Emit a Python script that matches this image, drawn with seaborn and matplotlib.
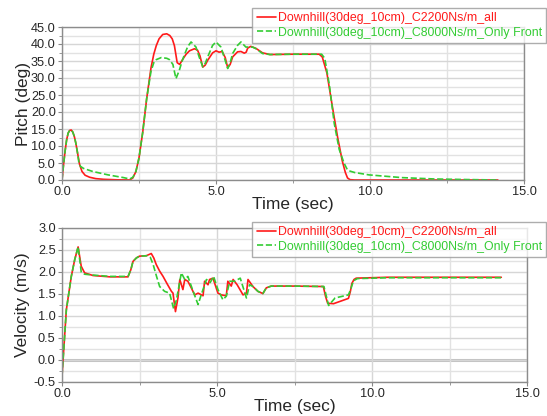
import matplotlib
matplotlib.use("Agg")
import matplotlib.pyplot as plt
from matplotlib.ticker import MultipleLocator, FormatStrFormatter
import seaborn as sns
import pandas as pd

# Pitch (deg), C2200Ns/m all
pitch_red_t = [0.0, 0.05, 0.1, 0.15, 0.2, 0.25, 0.3, 0.35, 0.4, 0.45, 0.5, 0.57, 0.65, 0.75, 0.9,
               1.1, 1.35, 1.8, 2.2, 2.3, 2.4, 2.5, 2.62, 2.75, 2.89, 2.98, 3.06, 3.15, 3.27, 3.4,
               3.5, 3.58, 3.65, 3.74, 3.82, 3.92, 4.03, 4.14, 4.3, 4.4, 4.48, 4.57, 4.65, 4.73,
               4.89, 5.0, 5.1, 5.2, 5.3, 5.38, 5.46, 5.54, 5.7, 5.81, 5.92, 5.98, 6.03, 6.13,
               6.3, 6.51, 6.75, 7.5, 8.35, 8.45, 8.6, 8.78, 8.95, 9.1, 9.2, 9.27, 9.35, 9.5, 10.5,
               12.0, 14.15]
pitch_red = [0.0, 4.5, 8.5, 11.8, 13.8, 14.6, 14.7, 14.1, 12.8, 10.8, 8.2, 4.6, 2.5, 1.4, 0.8, 0.4,
             0.2, 0.05, 0.0, 0.6, 2.5, 6.5, 14.0, 24.0, 33.0, 37.0, 39.5, 41.5, 42.8, 43.0, 42.5,
             41.5, 39.5, 34.5, 34.0, 35.5, 37.0, 38.0, 38.6, 38.2, 36.5, 33.2, 33.8, 35.2, 37.4,
             38.0, 37.6, 37.8, 36.0, 33.0, 34.0, 36.2, 37.7, 37.8, 37.3, 37.6, 38.8, 39.3, 38.7,
             37.4, 36.9, 37.0, 37.0, 36.2, 31.5, 21.5, 12.5, 5.6, 2.2, 0.6, 0.1, 0.0, 0.0, 0.0, 0.0]

# Pitch (deg), C8000Ns/m only front
pitch_grn_t = [0.0, 0.05, 0.1, 0.15, 0.2, 0.25, 0.3, 0.35, 0.4, 0.45, 0.5, 0.55, 0.6, 0.7, 1.0, 1.5,
               2.0, 2.2, 2.3, 2.4, 2.5, 2.62, 2.75, 2.89, 2.98, 3.06, 3.22, 3.4, 3.49, 3.6, 3.7,
               3.81, 3.9, 3.97, 4.08, 4.19, 4.35, 4.46, 4.57, 4.65, 4.73, 4.89, 5.0, 5.16, 5.27,
               5.38, 5.46, 5.54, 5.7, 5.81, 5.97, 6.19, 6.3, 6.51, 6.75, 7.5, 8.43, 8.53, 8.68,
               8.84, 9.0, 9.16, 9.25, 9.32, 9.5, 9.97, 11.04, 12.1, 13.0, 14.15]
pitch_grn = [0.0, 4.5, 8.5, 11.8, 13.8, 14.6, 14.7, 14.1, 12.8, 10.8, 8.2, 5.0, 4.0, 3.4, 2.5, 1.5,
             0.7, 0.3, 0.8, 2.5, 6.5, 14.0, 24.0, 32.0, 34.5, 35.4, 36.0, 35.8, 35.4, 34.0, 29.8,
             32.3, 35.0, 36.7, 39.2, 40.6, 39.1, 36.0, 33.3, 34.3, 36.2, 39.6, 40.6, 39.1, 36.0,
             32.8, 34.5, 37.2, 39.6, 40.6, 39.1, 39.1, 38.6, 37.2, 36.9, 37.0, 37.0, 35.8, 28.0,
             16.6, 9.0, 4.9, 3.3, 2.7, 2.2, 1.5, 0.7, 0.3, 0.15, 0.0]

# Velocity (m/s), C2200Ns/m all
vel_red_t = [0.0, 0.14, 0.3, 0.41, 0.52, 0.62, 0.73, 1.0, 1.54, 2.13, 2.22, 2.29, 2.4, 2.5, 2.72,
             2.88, 2.96, 3.04, 3.15, 3.26, 3.4, 3.53, 3.58, 3.66, 3.74, 3.8, 3.9, 3.96, 4.06, 4.17,
             4.28, 4.39, 4.55, 4.6, 4.71, 4.76, 4.87, 5.03, 5.14, 5.3, 5.35, 5.46, 5.52, 5.65,
             5.84, 5.95, 6.0, 6.16, 6.32, 6.48, 6.59, 6.75, 7.5, 8.43, 8.5, 8.57, 8.76, 9.24,
             9.3, 9.35, 9.42, 9.49, 10.5, 12.0, 14.17]
vel_red = [-0.37, 1.14, 1.9, 2.28, 2.57, 2.13, 1.98, 1.92, 1.89, 1.89, 2.05, 2.24, 2.32, 2.36, 2.37,
           2.42, 2.32, 2.17, 2.02, 1.9, 1.72, 1.56, 1.52, 1.1, 1.41, 1.83, 1.6, 1.83, 1.79, 1.64,
           1.48, 1.52, 1.46, 1.79, 1.71, 1.83, 1.86, 1.52, 1.48, 1.46, 1.79, 1.68, 1.83, 1.71,
           1.48, 1.52, 1.83, 1.67, 1.56, 1.51, 1.64, 1.68, 1.68, 1.67, 1.45, 1.29, 1.28, 1.4,
           1.55, 1.74, 1.83, 1.86, 1.88, 1.88, 1.88]

# Velocity (m/s), C8000Ns/m only front
vel_grn_t = [0.0, 0.14, 0.3, 0.41, 0.52, 0.62, 0.73, 1.0, 1.54, 2.13, 2.22, 2.29, 2.4, 2.5, 2.75,
             2.85, 2.94, 3.05, 3.15, 3.31, 3.47, 3.6, 3.69, 3.85, 3.96, 4.06, 4.23, 4.39, 4.49,
             4.66, 4.78, 4.89, 5.03, 5.19, 5.3, 5.41, 5.57, 5.75, 5.95, 6.05, 6.16, 6.32, 6.48,
             6.59, 6.75, 7.5, 8.45, 8.6, 8.81, 9.24, 9.32, 9.4, 9.53, 10.5, 12.0, 14.17]
vel_grn = [-0.37, 1.14, 1.9, 2.28, 2.57, 2.0, 1.95, 1.93, 1.9, 1.9, 2.05, 2.24, 2.32, 2.36, 2.37,
           2.33, 2.17, 1.9, 1.67, 1.56, 1.52, 1.17, 1.36, 1.98, 1.83, 1.9, 1.56, 1.26, 1.48, 1.83,
           1.76, 1.9, 1.6, 1.37, 1.45, 1.79, 1.79, 1.86, 1.41, 1.71, 1.67, 1.56, 1.51, 1.64, 1.68,
           1.68, 1.67, 1.24, 1.41, 1.48, 1.62, 1.8, 1.85, 1.87, 1.87, 1.87]

names = ["Downhill(30deg_10cm)_C2200Ns/m_all", "Downhill(30deg_10cm)_C8000Ns/m_Only Front"]
colors = ["#ff1a1a", "#33cc33"]

pitch_df = pd.concat([
    pd.DataFrame({"t": pitch_red_t, "v": pitch_red, "run": names[0]}),
    pd.DataFrame({"t": pitch_grn_t, "v": pitch_grn, "run": names[1]}),
])
vel_df = pd.concat([
    pd.DataFrame({"t": vel_red_t, "v": vel_red, "run": names[0]}),
    pd.DataFrame({"t": vel_grn_t, "v": vel_grn, "run": names[1]}),
])

sns.set_style("white")
plt.rcParams["font.family"] = ["Liberation Sans", "DejaVu Sans"]

fig = plt.figure(figsize=(5.47, 4.16), dpi=100)
ax1 = fig.add_axes([62 / 547, 1 - 180 / 416, 462 / 547, 153 / 416])
ax2 = fig.add_axes([62 / 547, 1 - 382 / 416, 465 / 547, 154 / 416])


def draw(ax, df, ylim, major, minor, ylabel, leg_top):
    for i, name in enumerate(names):
        sub = df[df["run"] == name]
        sns.lineplot(data=sub, x="t", y="v", ax=ax, color=colors[i], lw=1.2,
                     linestyle="-" if i == 0 else "--", label=name, sort=False)
    ax.set_xlim(0, 15)
    ax.set_ylim(*ylim)
    ax.xaxis.set_major_locator(MultipleLocator(5))
    ax.xaxis.set_minor_locator(MultipleLocator(2.5))
    ax.yaxis.set_major_locator(MultipleLocator(major))
    ax.yaxis.set_minor_locator(MultipleLocator(minor))
    ax.xaxis.set_major_formatter(FormatStrFormatter("%.1f"))
    ax.yaxis.set_major_formatter(FormatStrFormatter("%.1f"))
    ax.grid(True, which="major", color="#d6d6d6", lw=1.0)
    ax.grid(True, which="minor", color="#e2e2e2", lw=1.0)
    ax.set_axisbelow(True)
    ax.tick_params(which="both", direction="out", length=3, color="#888888",
                   labelsize=9.2, pad=1.5, left=True, bottom=True)
    ax.tick_params(which="minor", length=2)
    for s in ax.spines.values():
        s.set_color("#8c8c8c")
        s.set_linewidth(1.0)
    ax.set_xlabel("Time (sec)", fontsize=12.5)
    ax.xaxis.set_label_coords(0.5, -0.11)
    ax.set_ylabel(ylabel, fontsize=12.5)
    ax.yaxis.set_label_coords(-0.068, 0.5)
    leg = ax.legend(loc="upper right", bbox_to_anchor=(546 / 547, 1 - leg_top / 416),
                    bbox_transform=fig.transFigure, fontsize=8.9, frameon=True,
                    handlelength=1.6, handletextpad=0.1, borderpad=0.35, labelspacing=0.2,
                    borderaxespad=0, fancybox=False)
    leg.get_frame().set_edgecolor("#999999")
    leg.get_frame().set_linewidth(1.0)
    for txt, c in zip(leg.get_texts(), colors):
        txt.set_color(c)


draw(ax1, pitch_df, (0, 45), 5, 2.5, "Pitch (deg)", 8)
draw(ax2, vel_df, (-0.5, 3), 0.5, 0.25, "Velocity (m/s)", 222)
ax2.axhline(0, color="#c0c0c0", lw=2.2, zorder=0.5)

fig.savefig("out.png", dpi=100)
